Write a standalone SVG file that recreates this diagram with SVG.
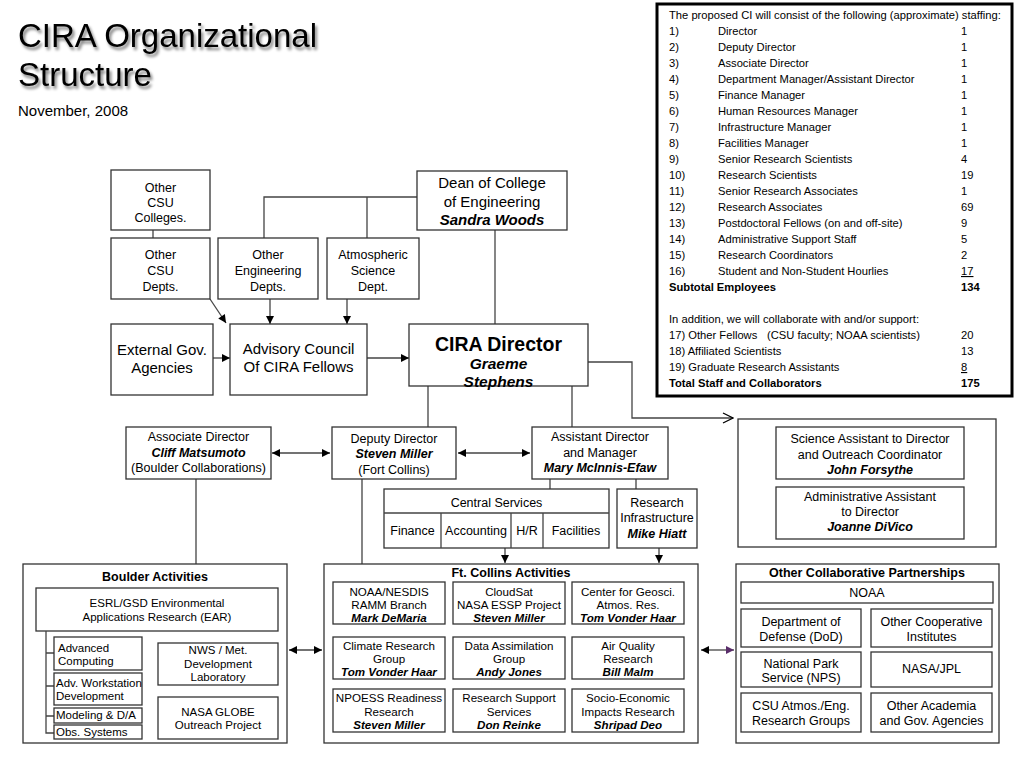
<svg xmlns="http://www.w3.org/2000/svg" width="1024" height="768" viewBox="0 0 1024 768">
<defs>
<style>
text{font-family:"Liberation Sans",Arial,sans-serif;fill:#000}
.c{text-anchor:middle}
.b{font-weight:bold}
.bi{font-weight:bold;font-style:italic}
.box{fill:#fff;stroke:#333;stroke-width:1.3}
.ln{fill:none;stroke:#444;stroke-width:1.3}
.s11{font-size:11.5px}
.s12{font-size:11.6px}
.s125{font-size:12.5px}
.s15{font-size:15px}
.tb{font-size:11.2px}
</style>
<marker id="ah" viewBox="0 0 10 10" refX="10" refY="5" markerWidth="9" markerHeight="8" markerUnits="userSpaceOnUse" orient="auto-start-reverse"><path d="M0,0 L10,5 L0,10 z" fill="#000"/></marker>
<marker id="ahp" viewBox="0 0 10 10" refX="10" refY="5" markerWidth="9" markerHeight="8" markerUnits="userSpaceOnUse" orient="auto"><path d="M0,0 L10,5 L0,10 z" fill="#5a2d6a"/></marker>
<marker id="ao" viewBox="0 0 12 12" refX="11" refY="6" markerWidth="12" markerHeight="12" markerUnits="userSpaceOnUse" orient="auto"><path d="M1,1 L11,6 L1,11" fill="none" stroke="#000" stroke-width="1.3"/></marker>
<filter id="sh" x="-5%" y="-20%" width="115%" height="150%"><feGaussianBlur in="SourceAlpha" stdDeviation="1.5"/><feOffset dx="2" dy="3" result="o"/><feComponentTransfer><feFuncA type="linear" slope="0.5"/></feComponentTransfer><feMerge><feMergeNode/><feMergeNode in="SourceGraphic"/></feMerge></filter>
</defs>
<rect width="1024" height="768" fill="#fff"/>

<g id="title">
<g filter="url(#sh)"><text x="18" y="47" font-size="33">CIRA Organizational</text><text x="18" y="86" font-size="33">Structure</text></g>
<text x="18" y="116" font-size="15">November, 2008</text>
</g>

<g id="staffing-table" class="tb">
<rect x="657" y="4" width="355" height="392" fill="#fff" stroke="#000" stroke-width="3"/>
<text x="669" y="19">The proposed CI will consist of the following (approximate) staffing:</text>
<text x="669" y="35">1)</text><text x="718" y="35">Director</text><text x="961" y="35">1</text>
<text x="669" y="51">2)</text><text x="718" y="51">Deputy Director</text><text x="961" y="51">1</text>
<text x="669" y="67">3)</text><text x="718" y="67">Associate Director</text><text x="961" y="67">1</text>
<text x="669" y="83">4)</text><text x="718" y="83">Department Manager/Assistant Director</text><text x="961" y="83">1</text>
<text x="669" y="99">5)</text><text x="718" y="99">Finance Manager</text><text x="961" y="99">1</text>
<text x="669" y="115">6)</text><text x="718" y="115">Human Resources Manager</text><text x="961" y="115">1</text>
<text x="669" y="131">7)</text><text x="718" y="131">Infrastructure Manager</text><text x="961" y="131">1</text>
<text x="669" y="147">8)</text><text x="718" y="147">Facilities Manager</text><text x="961" y="147">1</text>
<text x="669" y="163">9)</text><text x="718" y="163">Senior Research Scientists</text><text x="961" y="163">4</text>
<text x="669" y="179">10)</text><text x="718" y="179">Research Scientists</text><text x="961" y="179">19</text>
<text x="669" y="195">11)</text><text x="718" y="195">Senior Research Associates</text><text x="961" y="195">1</text>
<text x="669" y="211">12)</text><text x="718" y="211">Research Associates</text><text x="961" y="211">69</text>
<text x="669" y="227">13)</text><text x="718" y="227">Postdoctoral Fellows (on and off-site)</text><text x="961" y="227">9</text>
<text x="669" y="243">14)</text><text x="718" y="243">Administrative Support Staff</text><text x="961" y="243">5</text>
<text x="669" y="259">15)</text><text x="718" y="259">Research Coordinators</text><text x="961" y="259">2</text>
<text x="669" y="275">16)</text><text x="718" y="275">Student and Non-Student Hourlies</text><text x="961" y="275" text-decoration="underline">17</text>
<text x="669" y="291" class="b">Subtotal Employees</text><text x="961" y="291" class="b">134</text>
<text x="669" y="323">In addition, we will collaborate with and/or support:</text>
<text x="669" y="339">17) Other Fellows</text><text x="767" y="339">(CSU faculty; NOAA scientists)</text><text x="961" y="339">20</text>
<text x="669" y="355">18) Affiliated Scientists</text><text x="961" y="355">13</text>
<text x="669" y="371">19) Graduate Research Assistants</text><text x="961" y="371" text-decoration="underline">8</text>
<text x="669" y="387" class="b">Total Staff and Collaborators</text><text x="961" y="387" class="b">175</text>
</g>

<g id="connectors">
<path class="ln" d="M153,230 V238" stroke="#8a6a9a"/>
<path class="ln" d="M417,197 H264 V238 M367,197 V238"/>
<path class="ln" d="M495,230 V324"/>
<path class="ln" d="M213,358 H230" marker-end="url(#ah)"/>
<path class="ln" d="M367,358 H409" marker-end="url(#ah)"/>
<path class="ln" d="M270,299 V324" marker-end="url(#ah)"/>
<path class="ln" d="M347,299 V324" marker-end="url(#ah)"/>
<path class="ln" d="M210,299 L226,323" marker-end="url(#ah)"/>
<path class="ln" d="M588,362 H632 V418 H733" marker-end="url(#ao)"/>
<path class="ln" d="M428,386 V427 M572,386 V427"/>
<path class="ln" d="M272,453 H330" marker-start="url(#ah)" marker-end="url(#ah)"/>
<path class="ln" d="M458,453 H530" marker-start="url(#ah)" marker-end="url(#ah)"/>
<path class="ln" d="M550,479 V489 M636,479 V489"/>
<path class="ln" d="M505,548 V563" marker-end="url(#ah)"/>
<path class="ln" d="M659,548 V563" marker-end="url(#ah)"/>
<path class="ln" d="M196,479 V564 M362,479 V564"/>
<path class="ln" d="M289,650 H322" marker-start="url(#ah)" marker-end="url(#ah)"/>
<path class="ln" d="M701,650 H716" marker-start="url(#ah)"/>
<path class="ln" d="M716,650 H734" stroke="#5a2d6a" marker-end="url(#ahp)"/>
</g>

<g id="other-csu-colleges" class="s125">
<rect class="box" x="111" y="170" width="99" height="60"/>
<text class="c" x="160.5" y="192">Other</text><text class="c" x="160.5" y="207">CSU</text><text class="c" x="160.5" y="222">Colleges.</text>
</g>
<g id="other-csu-depts" class="s125">
<rect class="box" x="111" y="238" width="99" height="61"/>
<text class="c" x="160.5" y="259">Other</text><text class="c" x="160.5" y="275">CSU</text><text class="c" x="160.5" y="291">Depts.</text>
</g>
<g id="other-eng-depts" class="s125">
<rect class="box" x="218" y="238" width="100" height="61"/>
<text class="c" x="268" y="259">Other</text><text class="c" x="268" y="275">Engineering</text><text class="c" x="268" y="291">Depts.</text>
</g>
<g id="atmos-dept" class="s125">
<rect class="box" x="327" y="238" width="92" height="61"/>
<text class="c" x="373" y="259">Atmospheric</text><text class="c" x="373" y="275">Science</text><text class="c" x="373" y="291">Dept.</text>
</g>
<g id="dean" class="s15">
<rect class="box" x="417" y="171" width="150" height="59"/>
<text class="c" x="492" y="188">Dean of College</text><text class="c" x="492" y="207">of Engineering</text><text class="c bi" x="492" y="225">Sandra Woods</text>
</g>
<g id="cira-director">
<rect class="box" x="409" y="324" width="179" height="62"/>
<text class="c b" x="498.5" y="351" font-size="19.5">CIRA Director</text>
<text class="c bi" x="498.5" y="369" font-size="15.5">Graeme</text>
<text class="c bi" x="498.5" y="387" font-size="15.5">Stephens</text>
</g>
<g id="external-gov" class="s15">
<rect class="box" x="111" y="324" width="102" height="71"/>
<text class="c" x="162" y="355">External Gov.</text><text class="c" x="162" y="373">Agencies</text>
</g>
<g id="advisory-council" class="s15">
<rect class="box" x="230" y="324" width="137" height="71"/>
<text class="c" x="298.5" y="354">Advisory Council</text><text class="c" x="298.5" y="372">Of CIRA Fellows</text>
</g>

<g id="director-staff" class="s125">
<rect class="box" x="738" y="419" width="258" height="128"/>
<rect class="box" x="776" y="427" width="188" height="52"/>
<text class="c" x="870" y="443">Science Assistant to Director</text><text class="c" x="870" y="459">and Outreach Coordinator</text><text class="c bi" x="870" y="474">John Forsythe</text>
<rect class="box" x="776" y="487" width="188" height="52"/>
<text class="c" x="870" y="501">Administrative Assistant</text><text class="c" x="870" y="516">to Director</text><text class="c bi" x="870" y="531">Joanne DiVico</text>
</g>

<g id="associate-director" class="s125">
<rect class="box" x="126" y="427" width="145" height="52"/>
<text class="c" x="198.5" y="441">Associate Director</text><text class="c bi" x="198.5" y="457">Cliff Matsumoto</text><text class="c" x="198.5" y="472">(Boulder Collaborations)</text>
</g>
<g id="deputy-director" class="s125">
<rect class="box" x="332" y="427" width="124" height="52"/>
<text class="c" x="394" y="443">Deputy Director</text><text class="c bi" x="394" y="458">Steven Miller</text><text class="c" x="394" y="474">(Fort Collins)</text>
</g>
<g id="assistant-director" class="s125">
<rect class="box" x="532" y="427" width="136" height="52"/>
<text class="c" x="600" y="441">Assistant Director</text><text class="c" x="600" y="457">and Manager</text><text class="c bi" x="600" y="472">Mary McInnis-Efaw</text>
</g>
<g id="central-services" class="s125">
<rect class="box" x="384" y="489" width="225" height="59"/>
<path class="ln" d="M384,513 H609 M441,513 V548 M511,513 V548 M543,513 V548" stroke="#333"/>
<text class="c" x="496.5" y="507">Central Services</text>
<text class="c" x="412.5" y="535">Finance</text><text class="c" x="476" y="535">Accounting</text><text class="c" x="527" y="535">H/R</text><text class="c" x="576" y="535">Facilities</text>
</g>
<g id="research-infrastructure" class="s125">
<rect class="box" x="617" y="489" width="80" height="59"/>
<text class="c" x="657" y="507">Research</text><text class="c" x="657" y="522">Infrastructure</text><text class="c bi" x="657" y="538">Mike Hiatt</text>
</g>

<g id="boulder-activities" class="s11">
<rect class="box" x="23" y="564" width="264" height="179"/>
<text class="c b" x="155" y="581" font-size="12.5">Boulder Activities</text>
<rect class="box" x="36" y="588" width="242" height="43"/>
<text class="c" x="157" y="607">ESRL/GSD Environmental</text><text class="c" x="157" y="621">Applications Research (EAR)</text>
<path class="ln" d="M46,631 V733 H54 M46,653 H54 M46,686 H54 M46,716 H54"/>
<rect class="box" x="54" y="637" width="88" height="33"/>
<text x="58" y="652">Advanced</text><text x="58" y="665">Computing</text>
<rect class="box" x="54" y="673" width="88" height="32"/>
<text x="56" y="687">Adv. Workstation</text><text x="56" y="700">Development</text>
<rect class="box" x="54" y="708" width="88" height="15"/>
<text x="56" y="719">Modeling &amp; D/A</text>
<rect class="box" x="54" y="725" width="88" height="14"/>
<text x="56" y="736">Obs. Systems</text>
<rect class="box" x="158" y="643" width="120" height="42"/>
<text class="c" x="218" y="654">NWS / Met.</text><text class="c" x="218" y="668">Development</text><text class="c" x="218" y="681">Laboratory</text>
<rect class="box" x="158" y="697" width="120" height="42"/>
<text class="c" x="218" y="716">NASA GLOBE</text><text class="c" x="218" y="729">Outreach Project</text>
</g>

<g id="ft-collins-activities" class="s12">
<rect class="box" x="324" y="564" width="374" height="179"/>
<text class="c b" x="511" y="577" font-size="12.5">Ft. Collins Activities</text>
<rect class="box" x="333" y="582" width="112" height="42"/>
<text class="c" x="389" y="596">NOAA/NESDIS</text><text class="c" x="389" y="609">RAMM Branch</text><text class="c bi" x="389" y="622">Mark DeMaria</text>
<rect class="box" x="453" y="582" width="112" height="42"/>
<text class="c" x="509" y="596">CloudSat</text><text class="c" x="509" y="609">NASA ESSP Project</text><text class="c bi" x="509" y="622">Steven Miller</text>
<rect class="box" x="572" y="582" width="112" height="42"/>
<text class="c" x="628" y="596">Center for Geosci.</text><text class="c" x="628" y="609">Atmos. Res.</text><text class="c bi" x="628" y="622">Tom Vonder Haar</text>
<rect class="box" x="333" y="637" width="112" height="42"/>
<text class="c" x="389" y="650">Climate Research</text><text class="c" x="389" y="663">Group</text><text class="c bi" x="389" y="676">Tom Vonder Haar</text>
<rect class="box" x="453" y="637" width="112" height="42"/>
<text class="c" x="509" y="650">Data Assimilation</text><text class="c" x="509" y="663">Group</text><text class="c bi" x="509" y="676">Andy Jones</text>
<rect class="box" x="572" y="637" width="112" height="42"/>
<text class="c" x="628" y="650">Air Quality</text><text class="c" x="628" y="663">Research</text><text class="c bi" x="628" y="676">Bill Malm</text>
<rect class="box" x="333" y="689" width="112" height="43"/>
<text class="c" x="389" y="702">NPOESS Readiness</text><text class="c" x="389" y="716">Research</text><text class="c bi" x="389" y="729">Steven Miller</text>
<rect class="box" x="453" y="689" width="112" height="43"/>
<text class="c" x="509" y="702">Research Support</text><text class="c" x="509" y="716">Services</text><text class="c bi" x="509" y="729">Don Reinke</text>
<rect class="box" x="572" y="689" width="112" height="43"/>
<text class="c" x="628" y="702">Socio-Economic</text><text class="c" x="628" y="716">Impacts Research</text><text class="c bi" x="628" y="729">Shripad Deo</text>
</g>

<g id="other-partnerships" class="s125">
<rect class="box" x="736" y="564" width="263" height="179"/>
<text class="c b" x="867" y="577">Other Collaborative Partnerships</text>
<rect class="box" x="741" y="582" width="252" height="21"/>
<text class="c" x="867" y="597">NOAA</text>
<rect class="box" x="741" y="609" width="120" height="38"/>
<text class="c" x="801" y="626">Department of</text><text class="c" x="801" y="641">Defense (DoD)</text>
<rect class="box" x="871" y="609" width="121" height="38"/>
<text class="c" x="931.5" y="626">Other Cooperative</text><text class="c" x="931.5" y="641">Institutes</text>
<rect class="box" x="741" y="652" width="120" height="35"/>
<text class="c" x="801" y="668">National Park</text><text class="c" x="801" y="682">Service (NPS)</text>
<rect class="box" x="871" y="652" width="121" height="35"/>
<text class="c" x="931.5" y="673">NASA/JPL</text>
<rect class="box" x="741" y="693" width="120" height="39"/>
<text class="c" x="801" y="710">CSU Atmos./Eng.</text><text class="c" x="801" y="725">Research Groups</text>
<rect class="box" x="871" y="693" width="121" height="39"/>
<text class="c" x="931.5" y="710">Other Academia</text><text class="c" x="931.5" y="725">and Gov. Agencies</text>
</g>
</svg>
